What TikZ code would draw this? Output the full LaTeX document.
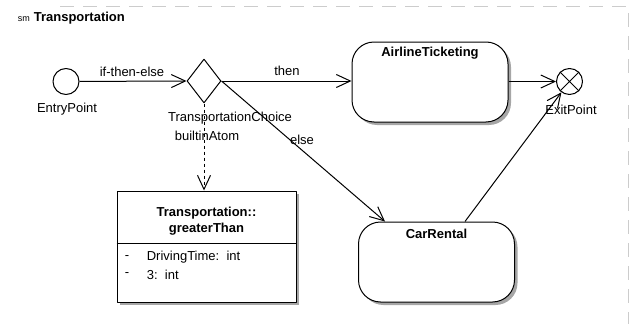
\documentclass[tikz,border=0pt]{standalone}
\usepackage{fontspec}
\setmainfont{Liberation Sans}
\usetikzlibrary{arrows.meta,shapes.geometric,shadows}

\begin{document}
\begin{tikzpicture}[x=1pt,y=-1pt,line join=bevel,
  >={Straight Barb[length=14pt,width=13pt]},
  every node/.style={font=\fontsize{13}{16}\selectfont},
  pseudo/.style={circle,draw,fill=white,minimum size=26pt,inner sep=0pt},
  statebox/.style={draw,fill=white,rounded corners=22pt,minimum width=156pt,minimum height=80pt,
    drop shadow={shadow xshift=3pt,shadow yshift=-3pt,fill=black!35,opacity=1}},
  classbox/.style={draw,fill=white,minimum width=179pt,minimum height=111pt,inner sep=0pt,
    drop shadow={shadow xshift=3pt,shadow yshift=-3pt,fill=black!35,opacity=1}},
  choicept/.style={diamond,draw,fill=white,minimum width=34pt,minimum height=44pt,inner sep=0pt},
  bold/.style={font=\fontsize{13}{16}\selectfont\bfseries}]
  \pgfsetlinewidth{1pt}
\useasboundingbox (0,0) rectangle (635,324);
%%
  % frame
  \draw [black!20,line width=0.5pt,dash pattern=on 14pt off 9pt] (60,6) -- (628,6) -- (628,324);
  \node [anchor=west,font=\fontsize{9}{10}\selectfont] (smTag) at (14,19) {sm};
  \node [anchor=west,bold] (smName) at (30,18) {Transportation};
  % Node: EntryPoint
  \node [pseudo] (entry) at (66,81.5) {};
  \node (entryLbl) at (67,109) {EntryPoint};
  % Node: TransportationChoice
  \node [choicept] (choice) at (204,81) {};
  \node (choiceLbl) at (230,118) {TransportationChoice};
  \node (atomLbl) at (207,136) {builtinAtom};
  % Node: AirlineTicketing
  \node [statebox] (airline) at (430,82) {};
  \node [bold] at ([yshift=-12pt]airline.north) {AirlineTicketing};
  % Node: CarRental
  \node [statebox] (carRental) at (436.5,262) {};
  \node [bold] at ([yshift=-12pt]carRental.north) {CarRental};
  % Node: ExitPoint
  \node [pseudo] (exit) at (569.5,81.5) {};
  \draw (exit.45) -- (exit.225) (exit.135) -- (exit.-45);
  \node (exitLbl) at (571,110) {ExitPoint};
  % Node: Transportation::greaterThan
  \node [classbox] (gtBox) at (206.5,246.5) {};
  \draw (gtBox.west |- 0,243) -- (gtBox.east |- 0,243);
  \node [bold,align=center] at (206.5,221) {Transportation::\\greaterThan};
  \node [anchor=west] at (121,257.5) {-};
  \node [anchor=west] at (143,257.5) {DrivingTime:\ \ int};
  \node [anchor=west] at (121,274.5) {-};
  \node [anchor=west] at (143,274.5) {3:\ \ int};
%%
  % Edge: EntryPoint -> TransportationChoice
  \draw [->] (entry) -- (choice.west);
  \node at (132,72) {if-then-else};
  % Edge: TransportationChoice -> AirlineTicketing
  \draw [->] (choice.east) -- (airline.west |- choice.east);
  \node at (287,71) {then};
  % Edge: TransportationChoice -> CarRental
  \draw [->] (choice.east) -- ([xshift=27pt]carRental.north west);
  \node at (302,140) {else};
  % Edge: AirlineTicketing -> ExitPoint
  \draw [->] (airline.east |- exit) -- (exit);
  % Edge: CarRental -> ExitPoint
  \draw [->] ([xshift=107pt]carRental.north west) -- (exit);
  % Edge: TransportationChoice -> greaterThan
  \draw [->,dashed] (choice.south) -- (choice.south |- gtBox.north);
%
\end{tikzpicture}
\end{document}
